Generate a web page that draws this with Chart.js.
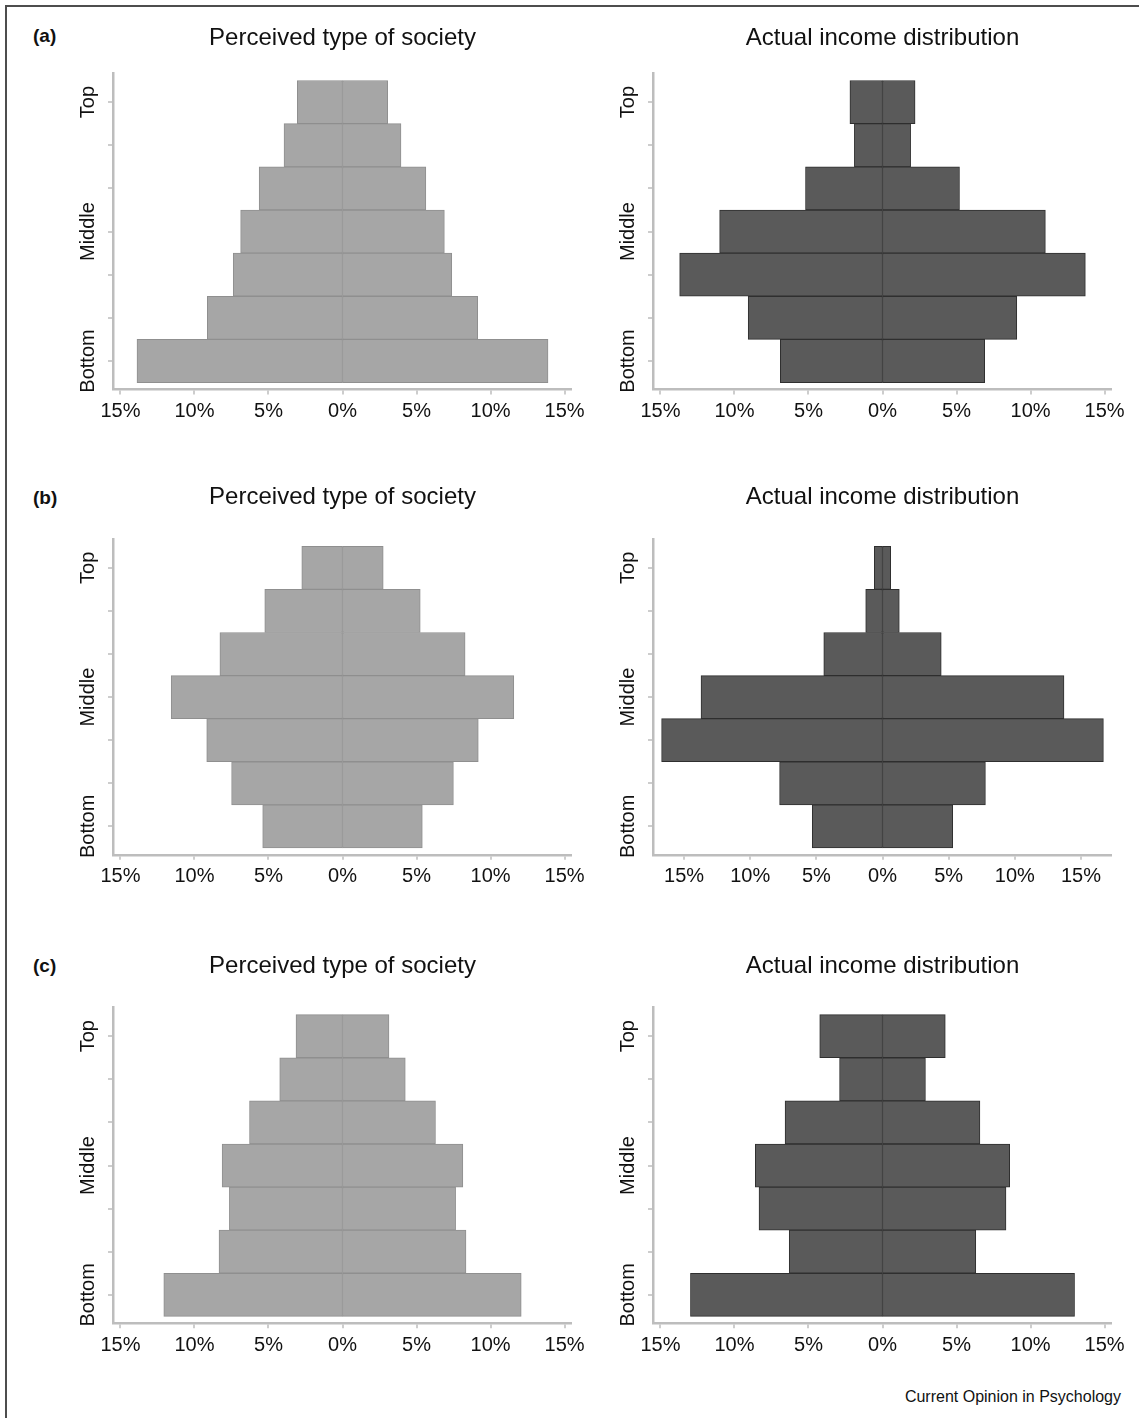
<!DOCTYPE html>
<html>
<head>
<meta charset="utf-8">
<title>Perceived vs actual income distribution</title>
<script src="https://cdn.jsdelivr.net/npm/chart.js@4.4.1/dist/chart.umd.min.js"></script>
<style>
  body { margin: 0; background: #fff; font-family: "Liberation Sans", Arial, Helvetica, sans-serif; }
  #page { position: relative; width: 1139px; height: 1418px; overflow: hidden; background: #fff; }
  #frame { position: absolute; left: 5px; top: 5px; width: 1150px; height: 1430px;
           border-left: 2px solid #4d4d4d; border-top: 2px solid #4d4d4d; }
  .panel { position: absolute; }
  .tag { position: absolute; left: 33px; font-weight: bold; font-size: 19px; line-height: 22px; color: #111; }
  #source { position: absolute; right: 18px; top: 1388px; font-size: 16px; line-height: 18px; color: #111; }
</style>
</head>
<body>
<div id="page">
  <div id="frame"></div>
  <div id="source">Current Opinion in Psychology</div>
</div>
<script>
// income levels, top to bottom
var levels = [0, 1, 2, 3, 4, 5, 6];
var levelLabels = ['Top', '', '', 'Middle', '', '', 'Bottom'];
var xTicks = [-15, -10, -5, 0, 5, 10, 15];

// share of population (%) per level, mirrored on both sides
var perceivedA = [3.05, 3.95, 5.63, 6.88, 7.38, 9.13, 13.88];
var actualA    = [2.2, 1.9, 5.2, 11.0, 13.7, 9.07, 6.9];
var perceivedB = [2.75, 5.25, 8.28, 11.57, 9.17, 7.49, 5.39];
var actualB    = [0.62, 1.27, 4.44, 13.72, 16.7, 7.78, 5.31];
var perceivedC = [3.14, 4.24, 6.28, 8.13, 7.64, 8.34, 12.07];
var actualC    = [4.24, 2.9, 6.58, 8.59, 8.34, 6.3, 12.97];

var titles = ['Perceived type of society', 'Actual income distribution'];
var tags = ['(a)', '(b)', '(c)'];

// layout (page pixels)
var rows = [
    { titleY: 37.5,  plotTop: 72.7,   plotBottom: 389,    tagTop: 25 },
    { titleY: 496.5, plotTop: 538.5,  plotBottom: 854.3,  tagTop: 487 },
    { titleY: 966,   plotTop: 1007.3, plotBottom: 1323.3, tagTop: 955 }
];
var cols = [{ left: 40 }, { left: 580 }];
var plotWidth = 459;
var yAxisWidth = 73;
var xAxisHeight = 45;

var colours = [
    { fill: '#a6a6a6', edge: '#8f8f8f' },
    { fill: '#5a5a5a', edge: '#2f2f2f' }
];
var axisColour = '#bdbdbd';

var panels = [
    { row: 0, col: 0, values: perceivedA, lim: 15.5 },
    { row: 0, col: 1, values: actualA,    lim: 15.5 },
    { row: 1, col: 0, values: perceivedB, lim: 15.5 },
    { row: 1, col: 1, values: actualB,    lim: 17.35 },
    { row: 2, col: 0, values: perceivedC, lim: 15.5 },
    { row: 2, col: 1, values: actualC,    lim: 15.5 }
];

Chart.defaults.font.family = '"Liberation Sans", Arial, Helvetica, sans-serif';
Chart.defaults.color = '#111';

var page = document.getElementById('page');

rows.forEach(function(r, i) {
    var t = document.createElement('div');
    t.className = 'tag';
    t.style.top = r.tagTop + 'px';
    t.textContent = tags[i];
    page.appendChild(t);
});

panels.forEach(function(p) {
    var r = rows[p.row];
    var c = cols[p.col];
    var col = colours[p.col];
    var top = r.titleY - 25;
    var titleSize = 24;
    var titleBox = titleSize * 1.2;
    var padRight = 20;

    var box = document.createElement('div');
    box.className = 'panel';
    box.style.left = c.left + 'px';
    box.style.top = top + 'px';
    box.style.width = (yAxisWidth + plotWidth + padRight) + 'px';
    box.style.height = (r.plotBottom - top + xAxisHeight) + 'px';
    var canvas = document.createElement('canvas');
    box.appendChild(canvas);
    page.appendChild(box);

    var left = p.values.map(function(v, i) { return { x: -v, y: levels[i] }; });
    var right = p.values.map(function(v, i) { return { x: v, y: levels[i] }; });
    var barStyle = {
        backgroundColor: col.fill,
        borderColor: col.edge,
        borderWidth: 1,
        borderSkipped: false,
        barPercentage: 1,
        categoryPercentage: 1,
        grouped: false
    };

    new Chart(canvas.getContext('2d'), {
        type: 'bar',
        data: {
            datasets: [
                Object.assign({ data: left }, barStyle),
                Object.assign({ data: right }, barStyle)
            ]
        },
        options: {
            indexAxis: 'y',
            responsive: true,
            maintainAspectRatio: false,
            animation: false,
            layout: { padding: { left: 0, right: padRight, top: 0, bottom: 0 } },
            plugins: {
                legend: { display: false },
                tooltip: { enabled: false },
                title: {
                    display: true,
                    text: titles[p.col],
                    fullSize: false,
                    color: '#111',
                    font: { size: titleSize, weight: 'normal', lineHeight: 1.2 },
                    padding: { top: 25 - titleBox / 2, bottom: r.plotTop - r.titleY - titleBox / 2 }
                }
            },
            scales: {
                x: {
                    type: 'linear',
                    min: -p.lim,
                    max: p.lim,
                    afterBuildTicks: function(s) {
                        s.ticks = xTicks.map(function(v) { return { value: v }; });
                    },
                    afterFit: function(s) { s.height = xAxisHeight; },
                    // lineWidth 0 keeps the bars flush at 0%
                    grid: { drawOnChartArea: false, lineWidth: 0, tickLength: 5, tickWidth: 1.5, tickColor: axisColour },
                    border: { color: axisColour, width: 2.5 },
                    ticks: {
                        autoSkip: false,
                        maxRotation: 0,
                        padding: 5,
                        font: { size: 20 },
                        callback: function(v) { return Math.abs(v) + '%'; }
                    }
                },
                y: {
                    type: 'linear',
                    reverse: true,
                    offset: false,
                    min: -0.67,
                    max: 6.66,
                    afterBuildTicks: function(s) {
                        s.ticks = levels.map(function(v) { return { value: v }; });
                    },
                    afterFit: function(s) { s.width = yAxisWidth; },
                    grid: { offset: false, drawOnChartArea: false, lineWidth: 0, tickLength: 5, tickWidth: 1.5, tickColor: axisColour },
                    border: { color: axisColour, width: 2.5 },
                    ticks: {
                        autoSkip: false,
                        minRotation: 90,
                        maxRotation: 90,
                        crossAlign: 'center',
                        padding: -12,
                        font: { size: 20 },
                        callback: function(v, i) { return levelLabels[i]; }
                    }
                }
            }
        }
    });
});
</script>
</body>
</html>
